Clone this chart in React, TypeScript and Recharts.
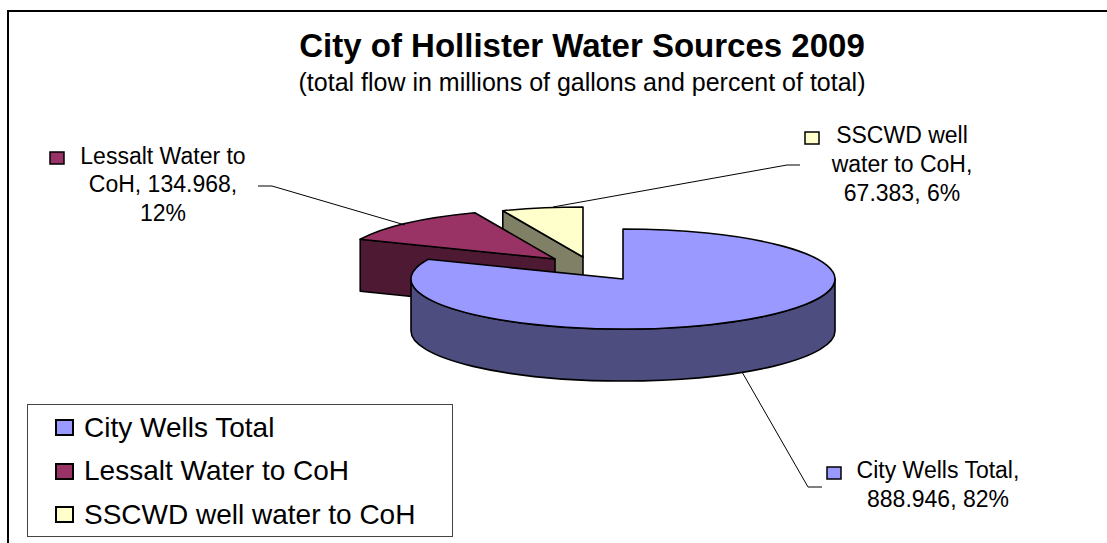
import * as React from 'react';
import { PieChart, Pie, Legend } from 'recharts';

const sourceNames = ['City Wells Total', 'Lessalt Water to CoH', 'SSCWD well water to CoH'];
const flowMillions = [888.946, 134.968, 67.383];
const percentLabels = [82, 12, 6];

const topColors = ['#9999ff', '#993366', '#ffffcc'];
const sideColors = ['#4d4d80', '#4d1933', '#808066'];

// drawn back to front, so the big slice sits on top of the exploded ones
const table = sourceNames
  .map((name, i) => ({ name, flow: flowMillions[i] }))
  .reverse();

const W = 1107;
const H = 543;
const FONT = '"Liberation Sans", Arial, sans-serif';
const SQUASH = 50 / 212; // ellipse ry / rx
const DEPTH = 52;

// how far each slice is pulled out of the pie
const explode = [
  { dx: 0, dy: 0 },
  { dx: -68, dy: -20 },
  { dx: -40, dy: -22 },
];

// word counts per line of each data label, and where the label sits
const labelLayout = [
  {
    words: [3, 2],
    x: 938,
    y: [478, 507],
    swatch: [827, 467],
    leader: '742,372 808,487 822,487',
  },
  {
    words: [3, 2, 1],
    x: 163,
    y: [164, 192, 221],
    swatch: [50, 152],
    leader: '258,186 272,186 405,225',
  },
  {
    words: [2, 3, 2],
    x: 902,
    y: [143, 172, 201],
    swatch: [805, 132],
    leader: '553,207 787,165 800,165',
  },
];

const rad = (a: number) => (a * Math.PI) / 180;

function Slice3D(props: any) {
  const { cx, cy, outerRadius: rx, startAngle, endAngle, name } = props;
  const i = sourceNames.indexOf(name);
  const ax = cx + explode[i].dx;
  const ay = cy + explode[i].dy;
  const ry = rx * SQUASH;
  const pt = (a: number, d = 0) =>
    `${ax + rx * Math.cos(rad(a))} ${ay - ry * Math.sin(rad(a)) + d}`;
  const arc = (a: number, sweep: number, large = 0) => `A ${rx} ${ry} 0 ${large} ${sweep} ${pt(a)}`;
  const arcLow = (a: number, sweep: number) => `A ${rx} ${ry} 0 0 ${sweep} ${pt(a, DEPTH)}`;
  const large = endAngle - startAngle > 180 ? 1 : 0;
  const common = { stroke: '#000', strokeWidth: 1.6, strokeLinejoin: 'round' as const };

  const from = Math.max(startAngle, 180);
  const to = Math.min(endAngle, 360);
  const hasWall = to > from;

  return (
    <g>
      {hasWall && (
        <path
          d={`M ${pt(from)} ${arc(to, 0)} L ${pt(to, DEPTH)} ${arcLow(from, 1)} Z`}
          fill={sideColors[i]}
          {...common}
        />
      )}
      {Math.cos(rad(endAngle)) < -0.01 && (
        <path
          d={`M ${ax} ${ay} L ${pt(endAngle)} L ${pt(endAngle, DEPTH)} L ${ax} ${ay + DEPTH} Z`}
          fill={sideColors[i]}
          {...common}
        />
      )}
      <path
        d={`M ${ax} ${ay} L ${pt(startAngle)} ${arc(endAngle, 0, large)} Z`}
        fill={topColors[i]}
        {...common}
      />
    </g>
  );
}

function DataLabel(props: any) {
  const i = sourceNames.indexOf(props.name);
  const layout = labelLayout[i];
  const words = `${sourceNames[i]}, ${flowMillions[i].toFixed(3)}, ${percentLabels[i]}%`.split(' ');
  let at = 0;
  const lines = layout.words.map((n) => {
    const line = words.slice(at, at + n).join(' ');
    at += n;
    return line;
  });
  return (
    <g>
      <polyline points={layout.leader} fill="none" stroke="#000" strokeWidth={1} />
      <rect
        x={layout.swatch[0]}
        y={layout.swatch[1]}
        width={14}
        height={12}
        fill={topColors[i]}
        stroke="#000"
        strokeWidth={1.5}
      />
      {lines.map((line, k) => (
        <text
          key={k}
          x={layout.x}
          y={layout.y[k]}
          textAnchor="middle"
          fontFamily={FONT}
          fontSize={23}
          fill="#000"
        >
          {line}
        </text>
      ))}
    </g>
  );
}

function LegendBox() {
  return (
    <div
      style={{
        width: 426,
        height: 133,
        boxSizing: 'border-box',
        border: '1px solid #444',
        background: '#fff',
        fontFamily: FONT,
        fontSize: 28,
        color: '#000',
        paddingTop: 1,
      }}
    >
      {sourceNames.map((name, i) => (
        <div key={name} style={{ display: 'flex', alignItems: 'center', height: 43.5, marginLeft: 27 }}>
          <span
            style={{
              width: 15,
              height: 13,
              background: topColors[i],
              border: '2px solid #000',
              marginRight: 10,
              flex: 'none',
            }}
          />
          <span style={{ whiteSpace: 'nowrap' }}>{name}</span>
        </div>
      ))}
    </div>
  );
}

export default function App() {
  return (
    <div style={{ position: 'absolute', left: 0, top: 0, width: W, height: H, overflow: 'hidden', background: '#fff' }}>
      <PieChart width={W} height={H} margin={{ top: 0, right: 0, bottom: 0, left: 0 }}>
        <path d={`M 8 ${H} V 11 H ${W}`} fill="none" stroke="#000" strokeWidth={2} />
        <text x={582} y={57} textAnchor="middle" fontFamily={FONT} fontSize={33} fontWeight="bold" fill="#000">
          City of Hollister Water Sources 2009
        </text>
        <text x={582} y={91} textAnchor="middle" fontFamily={FONT} fontSize={25} fill="#000">
          (total flow in millions of gallons and percent of total)
        </text>
        <Pie
          data={table}
          dataKey="flow"
          nameKey="name"
          cx={623}
          cy={279}
          innerRadius={0}
          outerRadius={212}
          startAngle={90}
          endAngle={450}
          paddingAngle={0}
          isAnimationActive={false}
          shape={Slice3D}
          label={DataLabel}
          labelLine={false}
        />
        <Legend
          layout="vertical"
          content={<LegendBox />}
          wrapperStyle={{ position: 'absolute', left: 27, top: 404, width: 426, height: 133, bottom: 'auto' }}
        />
      </PieChart>
    </div>
  );
}
